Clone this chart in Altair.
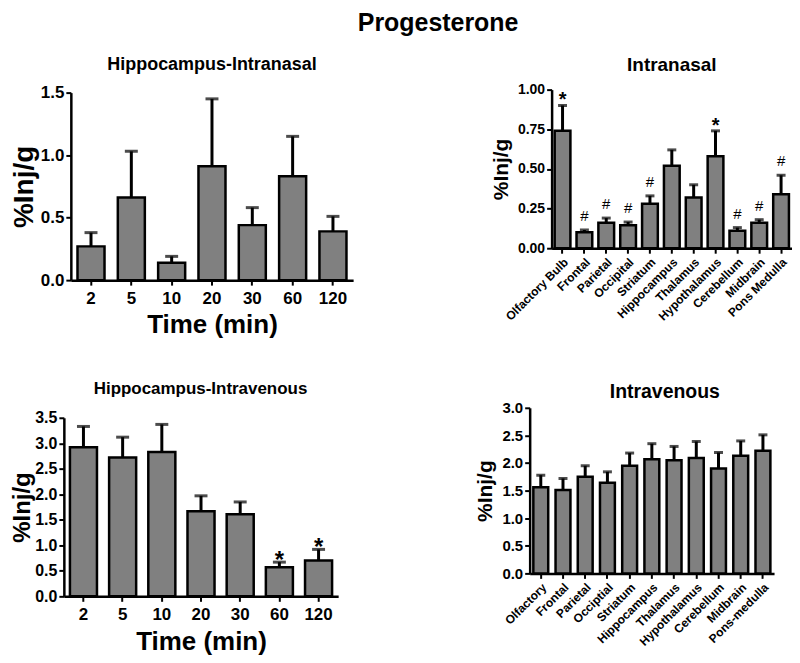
import altair as alt
import pandas as pd

# ---------------- data ----------------
time_labels = ["2", "5", "10", "20", "30", "60", "120"]
hip_in_mean = [0.27, 0.66, 0.14, 0.91, 0.44, 0.83, 0.39]
hip_in_top = [0.38, 1.03, 0.19, 1.45, 0.58, 1.15, 0.51]

hip_iv_mean = [2.92, 2.72, 2.83, 1.67, 1.61, 0.57, 0.70]
hip_iv_top = [3.33, 3.12, 3.37, 1.97, 1.85, 0.67, 0.92]
hip_iv_sig = ["", "", "", "", "", "*", "*"]

nasal_regions = ["Olfactory Bulb", "Frontal", "Parietal", "Occipital", "Striatum",
                 "Hippocampus", "Thalamus", "Hypothalamus", "Cerebellum", "Midbrain",
                 "Pons Medulla"]
nasal_mean = [0.74, 0.10, 0.16, 0.145, 0.28, 0.52, 0.32, 0.58, 0.11, 0.16, 0.34]
nasal_top = [0.90, 0.115, 0.19, 0.165, 0.33, 0.62, 0.40, 0.74, 0.13, 0.18, 0.46]
nasal_sig = ["*", "#", "#", "#", "#", "", "", "*", "#", "#", "#"]

iv_regions = ["Olfactory", "Frontal", "Parietal", "Occiptial", "Striatum",
              "Hippocampus", "Thalamus", "Hypothalamus", "Cerebellum", "Midbrain",
              "Pons-medulla"]
iv_mean = [1.56, 1.51, 1.75, 1.64, 1.95, 2.07, 2.05, 2.09, 1.90, 2.13, 2.22]
iv_top = [1.78, 1.72, 1.95, 1.84, 2.18, 2.35, 2.30, 2.39, 2.19, 2.40, 2.51]

FONT = "Liberation Sans"
GREY = "#808080"


def panel(cats, mean, top, sig, title, title_size, title_offset, title_dx, w, h, yshift,
          xshift, ymax, ystep, yfmt, ytitle_size, ytitle_pad, ylabel_size, xtitle,
          xlabel_size, rotate, pad_inner, cap, star_size, star_dy, hash_size, hash_dy):
    df = pd.DataFrame({"cat": cats, "mean": mean, "top": top,
                       "sig": sig if sig else [""] * len(cats)})
    ticks = [round(i * ystep, 4) for i in range(int(round(ymax / ystep)) + 1)]
    if xshift:
        xscale = alt.Scale(paddingInner=pad_inner, paddingOuter=pad_inner / 2,
                           range=[-xshift, w])
    else:
        xscale = alt.Scale(paddingInner=pad_inner, paddingOuter=pad_inner / 2)
    xaxis = alt.Axis(
        title=xtitle if xtitle else "",
        labelAngle=-45 if rotate else 0,
        labelAlign="right" if rotate else "center",
        labelBaseline="top",
        labelFontSize=xlabel_size,
        labelPadding=3 if rotate else 5,
        titleFontSize=26,
        titlePadding=6,
        domainWidth=2.5, tickWidth=2, tickSize=5,
    )
    x = alt.X("cat:N", sort=cats, scale=xscale, axis=xaxis)
    yscale = alt.Scale(domain=[0, ymax], nice=False, range=[h, -yshift])
    yaxis = alt.Axis(title="%Inj/g", values=ticks, format=yfmt, labelOverlap=False,
                     titleFontSize=ytitle_size, labelFontSize=ylabel_size,
                     titlePadding=ytitle_pad, labelPadding=2, offset=xshift,
                     domainWidth=2.5, tickWidth=2, tickSize=5)
    y_mean = alt.Y("mean:Q", scale=yscale, axis=yaxis)
    y_top = alt.Y("top:Q", scale=yscale, axis=yaxis)
    base = alt.Chart(df)
    bars = base.mark_bar(fill=GREY, stroke="black", strokeWidth=2.5).encode(x=x, y=y_mean)
    err = base.mark_rule(color="black", strokeWidth=3).encode(
        x=x, y=y_mean, y2="top:Q")
    caps = base.mark_tick(color="black", thickness=3, size=cap).encode(x=x, y=y_top)
    layers = [bars, err, caps]
    if sig:
        stars = base.transform_filter(alt.datum.sig == "*").mark_text(
            font=FONT, fontWeight="bold", fontSize=star_size, baseline="alphabetic",
            dy=star_dy, color="black").encode(x=x, y=y_top, text="sig:N")
        hashes = base.transform_filter(alt.datum.sig == "#").mark_text(
            font=FONT, fontSize=hash_size, baseline="alphabetic",
            dy=hash_dy, color="black").encode(x=x, y=y_top, text="sig:N")
        layers += [stars, hashes]
    return alt.layer(*layers).properties(
        width=w, height=h,
        title=alt.TitleParams(title, fontSize=title_size, offset=title_offset, dx=title_dx,
                              font=FONT, fontWeight="bold"))


A = panel(time_labels, hip_in_mean, hip_in_top, None, "Hippocampus-Intranasal", 18, 10, 0,
          283, 188, 0, 0, 1.5, 0.5, ".1f", 28, 2, 17, "Time (min)", 17, False, 0.33,
          13, 20, 0, 14, -10)
B = panel(nasal_regions, nasal_mean, nasal_top, nasal_sig, "Intranasal", 19, 8, 0,
          241, 156, 3, 0, 1.0, 0.25, ".2f", 21, 6, 14, None, 12, True, 0.28,
          9, 20, 1, 15, -9)
C = panel(time_labels, hip_iv_mean, hip_iv_top, hip_iv_sig, "Hippocampus-Intravenous", 17, 12, -4,
          268, 179, 0, 7, 3.5, 0.5, ".1f", 24, 0, 16, "Time (min)", 17, False, 0.31,
          13, 24, 6, 14, -10)
D = panel(iv_regions, iv_mean, iv_top, None, "Intravenous", 19.5, -2, 13,
          245, 156, 10, 0, 3.0, 0.5, ".1f", 21, 6, 15, None, 12, True, 0.33,
          9, 20, 0, 14, -10)

top_row = alt.hconcat(A, B, spacing=137)
bottom_row = alt.hconcat(C, D, spacing=130)

chart = alt.vconcat(top_row, bottom_row, spacing=42).properties(
    padding={"left": 2, "top": 2, "right": 0, "bottom": 0},
    title=alt.TitleParams("Progesterone", fontSize=25, font=FONT, fontWeight="bold",
                          anchor="middle", offset=20, dx=37),
).configure_view(stroke=None).configure_axis(
    labelFont=FONT, titleFont=FONT, labelFontWeight="bold", titleFontWeight="bold",
    labelColor="black", titleColor="black", domainColor="black", tickColor="black",
    grid=False,
).configure_title(color="black")

chart.save("out.html", embed_options={"renderer": "svg", "actions": False})
